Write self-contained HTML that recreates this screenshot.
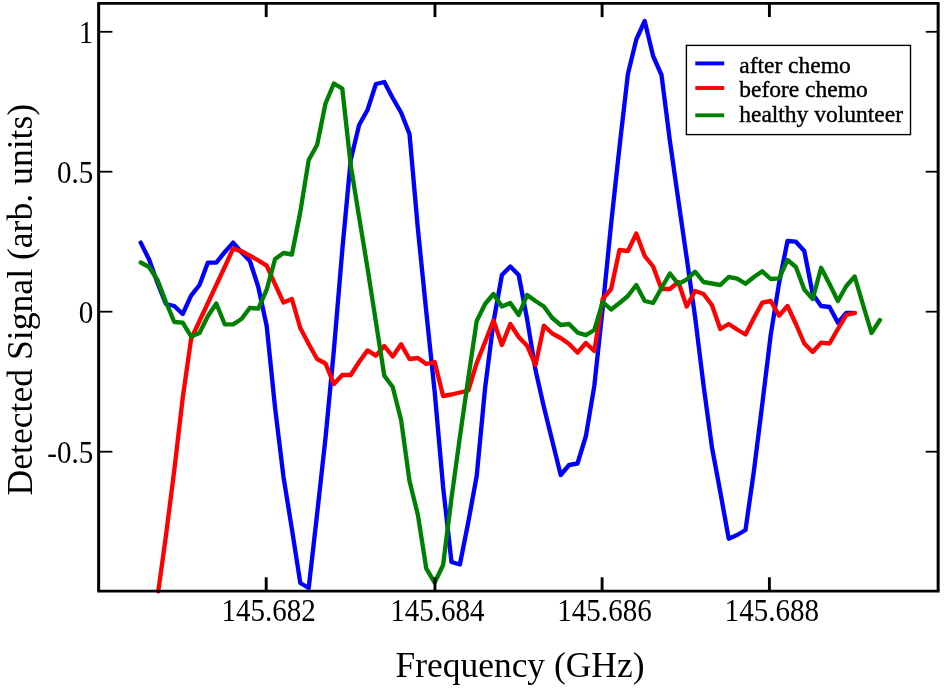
<!DOCTYPE html>
<html><head><meta charset="utf-8"><title>Detected Signal vs Frequency</title>
<style>
html,body{margin:0;padding:0;background:#fff;}
svg{display:block;font-family:"Liberation Serif","Times New Roman",serif;}
</style></head><body>
<svg width="944" height="690" viewBox="0 0 944 690">
<rect x="0" y="0" width="944" height="690" fill="#fff"/>
<g fill="none" stroke-width="4.35" stroke-linejoin="round" stroke-linecap="round">
<polyline stroke="#0000ff" points="140.7,242.6 149.1,259.5 157.5,283 165.9,304 174.3,306 182.7,314 191.1,295.6 199.5,285 207.9,262.6 216.3,262.6 224.7,252.2 233.1,242.6 241.5,252.2 249.9,261 258.3,287 266.7,326 275.1,408 283.5,477 291.9,529 300.3,583 308.7,588 317.1,514 325.5,438 333.9,350 342.3,250 350.7,160 359.1,125 367.5,110 375.9,84 384.3,82 392.7,98 401.1,112.5 409.5,134 417.9,229 426.3,312 434.7,392 443.1,487 451.5,562 459.9,564.5 468.3,522 476.7,476 485.1,388 493.5,322 501.9,275 510.3,266.5 518.7,275 527.1,319 535.5,370 543.9,407 552.3,441 560.7,475 569.1,465 577.5,463.5 585.9,436 594.3,386 602.7,308 611.1,224 619.5,147 627.9,74 636.3,39.5 644.7,21 653.1,56 661.5,75 669.9,141 678.3,200 686.7,258 695.1,317 703.5,385 711.9,447 720.3,492 728.7,538.7 737.1,535 745.5,530 753.9,471 762.3,404 770.7,335 779.1,283 787.5,241 795.9,241.7 804.3,251 812.7,294 821.1,306 829.5,307 837.9,322.6 846.3,313 854.7,313"/>
<polyline stroke="#ff0000" points="158.3,591.3 165.9,536 174.3,470 182.7,398 191.1,339 199.5,321 207.9,303 216.3,285 224.7,267 233.1,248.7 241.5,251.3 249.9,255.7 258.3,260.3 266.7,265.6 275.1,284.3 283.5,302.6 291.9,299 300.3,328 308.7,344 317.1,359 325.5,363.5 333.9,384 342.3,375 350.7,375 359.1,362 367.5,350.4 375.9,355.7 384.3,346 392.7,356.5 401.1,344.3 409.5,359 417.9,358 426.3,364 434.7,362 443.1,396 451.5,394.5 459.9,392.5 468.3,390.5 476.7,363 485.1,342 493.5,320.4 501.9,345 510.3,324 518.7,337 527.1,345.7 535.5,365 543.9,325.7 552.3,333.5 560.7,338 569.1,344 577.5,352.6 585.9,343 594.3,351 602.7,299 611.1,289 619.5,250 627.9,251 636.3,233.5 644.7,256 653.1,266.5 661.5,289 669.9,289 678.3,282 686.7,306.5 695.1,291 703.5,294 711.9,305 720.3,329 728.7,324 737.1,329.5 745.5,334.5 753.9,318 762.3,302.6 770.7,301 779.1,315.7 787.5,306 795.9,324 804.3,343.5 812.7,352 821.1,342.6 829.5,343.5 837.9,329 846.3,315 854.7,313"/>
<polyline stroke="#008000" points="140.7,262.5 149.1,267 157.5,280 165.9,302 174.3,322 182.7,322.6 191.1,336.5 199.5,333 207.9,316 216.3,303.5 224.7,324.3 233.1,324.3 241.5,319 249.9,307.8 258.3,308.7 266.7,289.6 275.1,259 283.5,253 291.9,254.5 300.3,212 308.7,160 317.1,145 325.5,103.5 333.9,83.5 342.3,88.7 350.7,165 359.1,217 367.5,268 375.9,322 384.3,375.7 392.7,387 401.1,420 409.5,481 417.9,515 426.3,568.7 434.7,582.6 443.1,565 451.5,498 459.9,437 468.3,378 476.7,321 485.1,304 493.5,294 501.9,306.5 510.3,303 518.7,315 527.1,295 535.5,301 543.9,306.5 552.3,318 560.7,325 569.1,324 577.5,332.6 585.9,335.2 594.3,330 602.7,302 611.1,309.5 619.5,303 627.9,296 636.3,285 644.7,301 653.1,303 661.5,288 669.9,273.5 678.3,284 686.7,279.6 695.1,271.7 703.5,282 711.9,283.5 720.3,285 728.7,277 737.1,278.7 745.5,283.7 753.9,277 762.3,271.3 770.7,279 779.1,278.3 787.5,260 795.9,267 804.3,289.6 812.7,299 821.1,267.8 829.5,284 837.9,301 846.3,286 854.7,276.5 863.1,305 871.5,333 879.9,320"/>
</g>
<g stroke="#000" stroke-width="2.75" fill="none" stroke-linecap="square">
<line x1="98.65" y1="3.3" x2="938.15" y2="3.3"/><line x1="98.65" y1="591.05" x2="938.15" y2="591.05"/>
</g>
<g stroke="#000" stroke-width="3" fill="none">
<line x1="98.65" y1="3.3" x2="98.65" y2="591.05"/><line x1="938.15" y1="3.3" x2="938.15" y2="591.05"/>
</g>
<g stroke="#000" stroke-width="2.9" fill="none">
<line x1="266.2" y1="3.3" x2="266.2" y2="17.1"/><line x1="266.2" y1="591.05" x2="266.2" y2="577.3"/><line x1="434.95" y1="3.3" x2="434.95" y2="17.1"/><line x1="434.95" y1="591.05" x2="434.95" y2="577.3"/><line x1="602.1" y1="3.3" x2="602.1" y2="17.1"/><line x1="602.1" y1="591.05" x2="602.1" y2="577.3"/><line x1="769.4" y1="3.3" x2="769.4" y2="17.1"/><line x1="769.4" y1="591.05" x2="769.4" y2="577.3"/>
</g>
<g stroke="#000" stroke-width="1.8" fill="none">
<line x1="98.65" y1="31.8" x2="112.4" y2="31.8"/><line x1="938.15" y1="31.8" x2="925.7" y2="31.8"/><line x1="98.65" y1="171.7" x2="112.4" y2="171.7"/><line x1="938.15" y1="171.7" x2="925.7" y2="171.7"/><line x1="98.65" y1="311.7" x2="112.4" y2="311.7"/><line x1="938.15" y1="311.7" x2="925.7" y2="311.7"/><line x1="98.65" y1="451.7" x2="112.4" y2="451.7"/><line x1="938.15" y1="451.7" x2="925.7" y2="451.7"/>
</g>
<g fill="#000">
<text transform="translate(268.59999999999997,621.3) scale(0.908,1)" text-anchor="middle" font-size="32">145.682</text><text transform="translate(437.34999999999997,621.3) scale(0.908,1)" text-anchor="middle" font-size="32">145.684</text><text transform="translate(604.5,621.3) scale(0.908,1)" text-anchor="middle" font-size="32">145.686</text><text transform="translate(771.8,621.3) scale(0.908,1)" text-anchor="middle" font-size="32">145.688</text><text transform="translate(93.3,42.6) scale(0.908,1)" text-anchor="end" font-size="32">1</text><text transform="translate(93.3,182.5) scale(0.908,1)" text-anchor="end" font-size="32">0.5</text><text transform="translate(93.3,322.5) scale(0.908,1)" text-anchor="end" font-size="32">0</text><text transform="translate(93.3,462.5) scale(0.908,1)" text-anchor="end" font-size="32">-0.5</text>
<text transform="translate(520.0,676.6) scale(0.979,1)" text-anchor="middle" font-size="36.2">Frequency (GHz)</text>
<text transform="translate(31.9,299.6) rotate(-90) scale(0.984,1)" text-anchor="middle" font-size="36.2">Detected Signal (arb. units)</text>
</g>
<rect x="686.4" y="45.4" width="224.1" height="89.2" fill="#fff" stroke="#000" stroke-width="1.4"/>
<g stroke-width="3.9" fill="none">
<line x1="695.3" y1="63.4" x2="724.2" y2="63.4" stroke="#0000ff"/>
<line x1="695.3" y1="88" x2="724.2" y2="88" stroke="#ff0000"/>
<line x1="695.3" y1="115.3" x2="724.2" y2="115.3" stroke="#008000"/>
</g>
<g fill="#000" font-size="23.8" stroke="#000" stroke-width="0.4">
<text transform="translate(739.2,72.5) scale(0.988,1)">after chemo</text>
<text transform="translate(739.2,97.0) scale(0.988,1)">before chemo</text>
<text transform="translate(739.2,121.5) scale(0.988,1)">healthy volunteer</text>
</g>
</svg>
</body></html>
